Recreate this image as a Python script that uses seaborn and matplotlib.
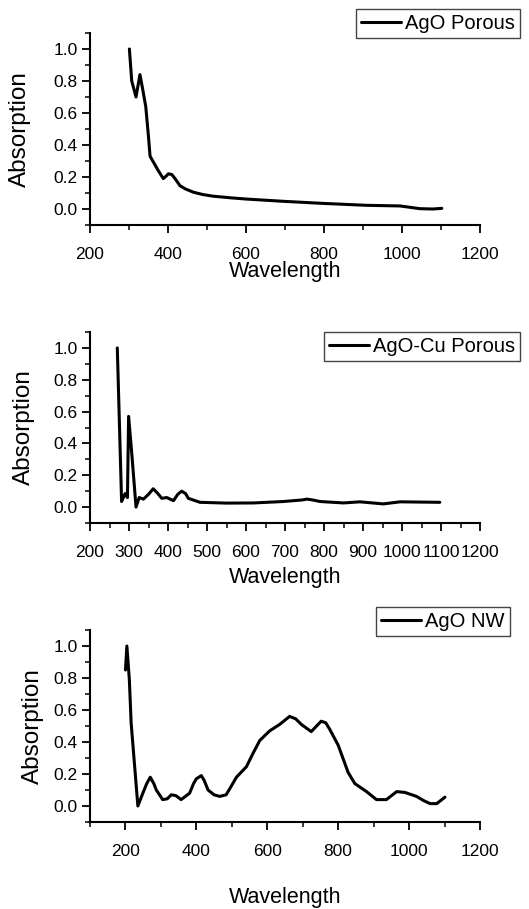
import matplotlib
matplotlib.use("Agg")
import matplotlib.pyplot as plt
import seaborn as sns
import pandas as pd
from matplotlib.ticker import MultipleLocator

# ---- data ----
porous_x = [301, 307, 318, 328, 335, 343, 350, 354, 361, 375, 388, 395, 401, 410, 418,
            431, 445, 465, 490, 516, 560, 602, 696, 798, 909, 995, 1046, 1080, 1102]
porous_y = [1.0, 0.80, 0.70, 0.84, 0.75, 0.64, 0.45, 0.33, 0.30, 0.24, 0.19, 0.205,
            0.22, 0.215, 0.19, 0.145, 0.125, 0.105, 0.09, 0.08, 0.07, 0.062, 0.048,
            0.035, 0.023, 0.019, 0.002, 0.0, 0.004]

cu_x = [270, 281, 290, 296, 299, 307, 318, 326, 337, 350, 362, 374, 384, 397, 414,
        425, 435, 445, 452, 482, 550, 619, 696, 745, 756, 770, 790, 850, 892, 952,
        995, 1097]
cu_y = [1.0, 0.035, 0.085, 0.06, 0.57, 0.34, 0.0, 0.06, 0.05, 0.08, 0.115, 0.085,
        0.055, 0.06, 0.04, 0.08, 0.10, 0.085, 0.055, 0.03, 0.025, 0.026, 0.035, 0.045,
        0.05, 0.045, 0.035, 0.026, 0.033, 0.02, 0.033, 0.03]

nw_x = [200, 204, 211, 216, 235, 249, 260, 270, 280, 287, 305, 318, 329, 342, 357,
        381, 392, 400, 414, 422, 433, 450, 466, 484, 500, 513, 541, 560, 579, 607,
        635, 663, 680, 696, 724, 752, 765, 776, 800, 828, 847, 880, 908, 936, 965,
        988, 1021, 1040, 1059, 1078, 1101]
nw_y = [0.85, 1.0, 0.79, 0.52, 0.0, 0.08, 0.14, 0.18, 0.14, 0.10, 0.04, 0.045, 0.07,
        0.065, 0.04, 0.08, 0.14, 0.17, 0.19, 0.16, 0.10, 0.07, 0.06, 0.07, 0.13, 0.18,
        0.245, 0.33, 0.41, 0.47, 0.51, 0.56, 0.545, 0.51, 0.465, 0.53, 0.52, 0.48,
        0.38, 0.21, 0.14, 0.09, 0.04, 0.04, 0.09, 0.085, 0.06, 0.035, 0.015, 0.015,
        0.055]

labels = ["AgO Porous", "AgO-Cu Porous", "AgO NW"]
y_ticks = [0.0, 0.2, 0.4, 0.6, 0.8, 1.0]

sns.set_style("ticks")
plt.rcParams['font.family'] = ['Liberation Sans', 'DejaVu Sans']
plt.rcParams['text.color'] = 'black'
plt.rcParams['axes.labelcolor'] = 'black'
plt.rcParams['xtick.color'] = 'black'
plt.rcParams['ytick.color'] = 'black'

W, H = 529, 909
fig = plt.figure(figsize=(W / 100, H / 100), dpi=100)

def fx(px):
    return px / W

def fy(py):
    return 1 - py / H

panels = [
    dict(x=porous_x, y=porous_y, label=labels[0], top=33, bottom=225,
         xlim=(200, 1200), major=200, minor=100, leg=(520, 9), xl_y=-0.19, yl_x=-0.18),
    dict(x=cu_x, y=cu_y, label=labels[1], top=332, bottom=523,
         xlim=(200, 1200), major=100, minor=50, leg=(520, 332), xl_y=-0.23, yl_x=-0.17),
    dict(x=nw_x, y=nw_y, label=labels[2], top=630, bottom=822,
         xlim=(100, 1200), major=200, minor=100, leg=(510, 607), xl_y=-0.34, yl_x=-0.145),
]

for p in panels:
    ax = fig.add_axes([fx(90), fy(p['bottom']), fx(480) - fx(90), fy(p['top']) - fy(p['bottom'])])
    df = pd.DataFrame({"Wavelength": p['x'], "Absorption": p['y'], "sample": p['label']})
    sns.lineplot(data=df, x="Wavelength", y="Absorption", hue="sample",
                 palette=["black"], linewidth=2.2, ax=ax, sort=False)
    ax.set_xlim(*p['xlim'])
    ax.set_ylim(-0.1, 1.1)
    ax.xaxis.set_major_locator(MultipleLocator(p['major']))
    ax.xaxis.set_minor_locator(MultipleLocator(p['minor']))
    ax.set_yticks(y_ticks)
    ax.set_yticklabels([f"{v:.1f}" for v in y_ticks])
    ax.yaxis.set_minor_locator(MultipleLocator(0.1))
    for s in ["top", "right"]:
        ax.spines[s].set_visible(False)
    for s in ["left", "bottom"]:
        ax.spines[s].set_linewidth(1.5)
        ax.spines[s].set_color("black")
    ax.tick_params(axis='both', which='major', direction='out', length=6, width=1.3,
                   labelsize=12.5, colors='black')
    ax.tick_params(axis='both', which='minor', direction='out', length=3.5, width=1.1)
    ax.tick_params(axis='x', which='major', pad=10)
    ax.tick_params(axis='y', which='major', pad=3)
    ax.set_xlabel("Wavelength", fontsize=15.5, color='black')
    ax.set_ylabel("Absorption", fontsize=17.5, color='black')
    ax.xaxis.set_label_coords(0.5, p['xl_y'])
    ax.yaxis.set_label_coords(p['yl_x'], 0.5)
    ax.yaxis.label.set_verticalalignment('center')
    leg = ax.legend(loc='upper right', bbox_to_anchor=(fx(p['leg'][0]), fy(p['leg'][1])),
                    bbox_transform=fig.transFigure, fontsize=14.5, frameon=True,
                    fancybox=False, shadow=False, edgecolor='#444444', framealpha=1,
                    borderpad=0.25, handlelength=2.0, handletextpad=0.2,
                    borderaxespad=0)
    leg.get_frame().set_linewidth(1.0)
    for t in leg.get_texts():
        t.set_color('black')

fig.savefig("out.png", dpi=100, facecolor="white")
